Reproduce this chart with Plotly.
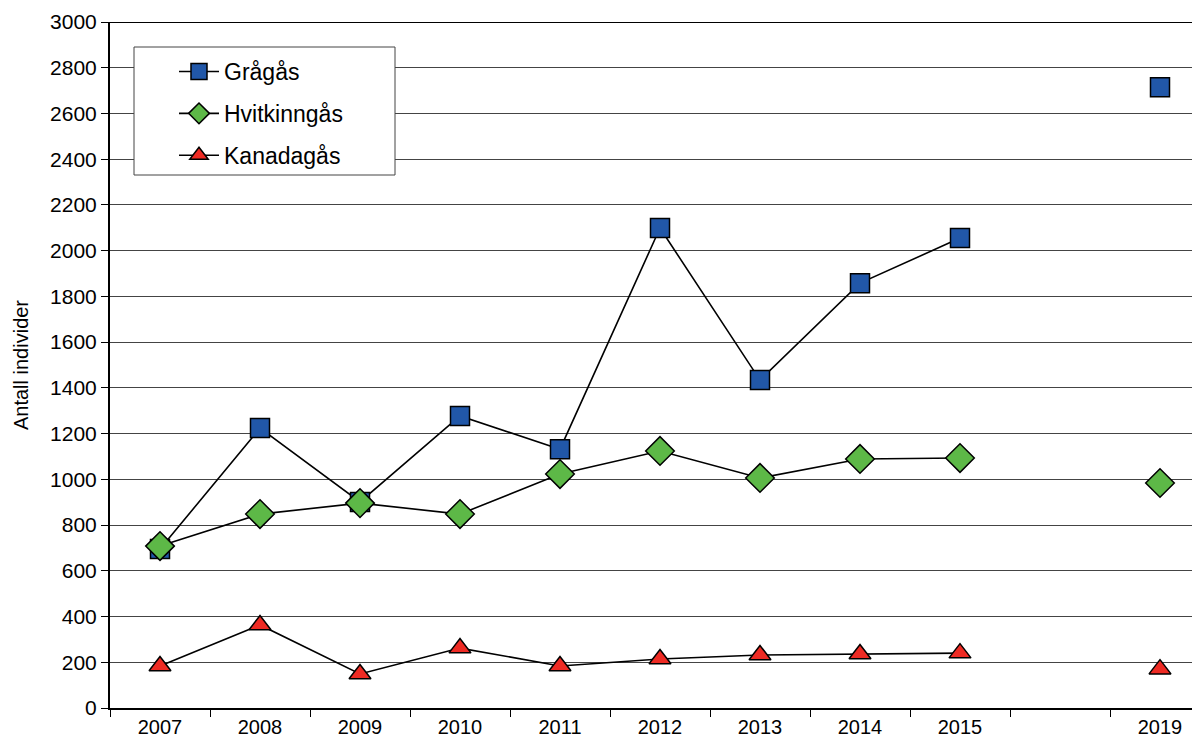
import plotly.graph_objects as go

years = ["2007", "2008", "2009", "2010", "2011", "2012", "2013", "2014", "2015", "", "2019"]
gragas = [695, 1224, 901, 1277, 1132, 2099, 1434, 1858, 2055, None, 2715]
hvitkinngas = [708, 848, 896, 848, 1023, 1124, 1006, 1089, 1093, None, 984]
kanadagas = [184, 363, 149, 262, 184, 214, 232, 236, 240, None, 170]
yticks = list(range(0, 3001, 200))

xpos = list(range(len(years)))

fig = go.Figure()
series = [
    ("Grågås", gragas, "square", "#2157A8", 19),
    ("Hvitkinngås", hvitkinngas, "diamond", "#5DB847", 22),
    ("Kanadagås", kanadagas, "triangle-up", "#EE2B24", 19),
]
for name, vals, sym, col, sz in series:
    fig.add_trace(go.Scatter(
        x=xpos, y=vals, name=name, mode="lines+markers",
        line=dict(color="black", width=1.6),
        marker=dict(symbol=sym, size=sz, color=col, line=dict(color="black", width=1.5)),
        connectgaps=False, legendgroup=name,
    ))

# page body has an 8px margin: compensate so the plot lands where the reference has it
OFF = 8
W, H = 1090, 686  # plot area size in pixels
fig.add_shape(type="line", xref="paper", yref="y", x0=0, x1=1, y0=3000, y1=3000,
              line=dict(color="black", width=2))
fig.add_shape(type="rect", xref="paper", yref="paper",
              x0=(134 - 110) / W, x1=(395 - 110) / W,
              y0=(708 - 175) / H, y1=(708 - 47) / H,
              line=dict(color="#444", width=1), fillcolor="white", layer="above")

fig.update_layout(
    width=1200 - OFF, height=740 - OFF,
    margin=dict(l=110 - OFF, r=0, t=22 - OFF, b=740 - OFF - (22 - OFF) - H),
    paper_bgcolor="white", plot_bgcolor="white",
    font=dict(family="Liberation Sans, Arial, sans-serif", size=20, color="black"),
    showlegend=True,
    legend=dict(x=(174 - 110) / W, y=(708 - 50) / H, xanchor="left", yanchor="top",
                borderwidth=0, bgcolor="rgba(0,0,0,0)",
                font=dict(size=23), tracegroupgap=9, itemwidth=40),
    xaxis=dict(range=[-0.5, 10.4], tickmode="array", tickvals=xpos, ticktext=years,
               ticks="", showgrid=False, zeroline=False, showline=True,
               linecolor="black", linewidth=2, automargin=False, ticklabelstandoff=0,
               minor=dict(tickmode="array", tickvals=[i - 0.5 for i in range(len(years) + 1)],
                          ticks="outside", ticklen=7, tickcolor="black", tickwidth=1, showgrid=False),
               tickfont=dict(size=20)),
    yaxis=dict(range=[0, 3000], tickmode="array", tickvals=yticks, ticks="outside", ticklen=7,
               tickcolor="black", showgrid=True, gridcolor="#444", gridwidth=1,
               zeroline=False, showline=True, linecolor="black", linewidth=2, automargin=False,
               title=dict(text="Antall individer", font=dict(size=20), standoff=16),
               tickfont=dict(size=21)),
)

fig.write_html("out.html")
